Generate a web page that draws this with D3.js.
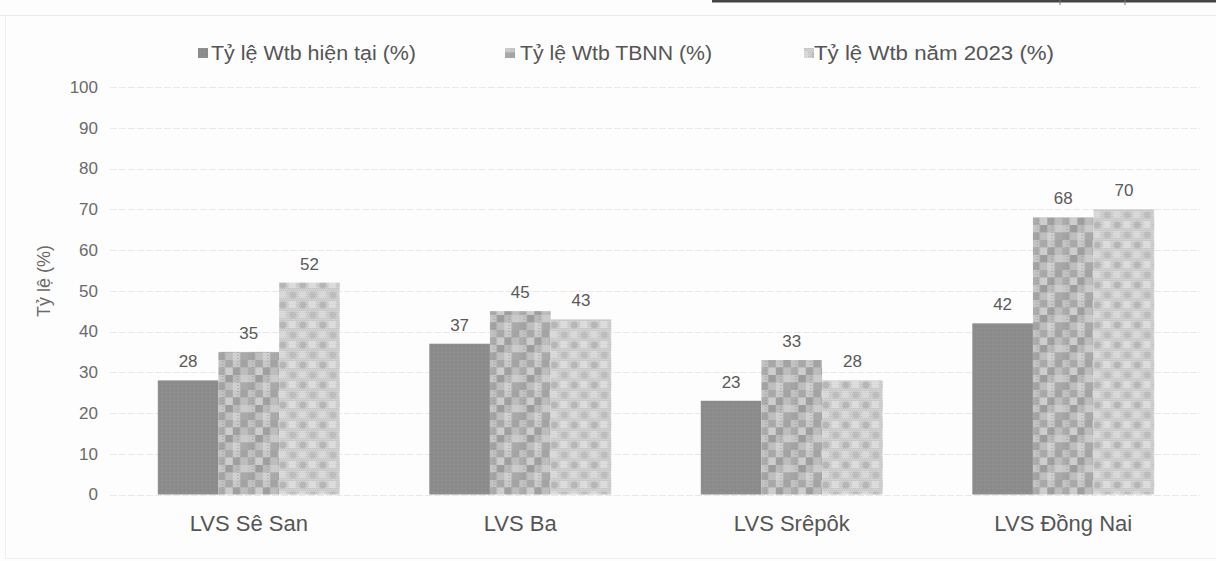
<!DOCTYPE html>
<html>
<head>
<meta charset="utf-8">
<script src="https://cdn.jsdelivr.net/npm/d3@7"></script>
<style>
  html, body { margin: 0; padding: 0; background: #fdfdfd; }
  svg { display: block; font-family: "Liberation Sans", Arial, sans-serif; }
</style>
</head>
<body>
<svg id="chart" width="1216" height="561"></svg>
<script>
// Basin names and water-level ratios (%)
const categories = ["LVS Sê San", "LVS Ba", "LVS Srêpôk", "LVS Đồng Nai"];
const seriesNames = ["Tỷ lệ Wtb hiện tại (%)", "Tỷ lệ Wtb TBNN (%)", "Tỷ lệ Wtb năm 2023 (%)"];
const currentRatio = [28, 37, 23, 42];
const averageRatio = [35, 45, 33, 68];
const ratio2023 = [52, 43, 28, 70];
const yTicks = [0, 10, 20, 30, 40, 50, 60, 70, 80, 90, 100];
const axisTitle = "Tỷ lệ (%)";

const series = [currentRatio, averageRatio, ratio2023];

const svg = d3.select("#chart");
const W = 1216, H = 561;

// --- page frame lines
svg.append("rect").attr("x", 0).attr("y", 0).attr("width", W).attr("height", H).attr("fill", "#fdfdfd");
svg.append("line").attr("x1", 0).attr("x2", W).attr("y1", 15.5).attr("y2", 15.5)
  .attr("stroke", "#ebebeb").attr("stroke-width", 1);
svg.append("line").attr("x1", 5.5).attr("x2", 5.5).attr("y1", 16).attr("y2", 558)
  .attr("stroke", "#efefef").attr("stroke-width", 1);
svg.append("line").attr("x1", 5).attr("x2", W).attr("y1", 558.5).attr("y2", 558.5)
  .attr("stroke", "#efefef").attr("stroke-width", 1);
svg.append("rect").attr("x", 712).attr("y", 0).attr("width", W - 712).attr("height", 2.5)
  .attr("fill", "#444");
[1060, 1125].forEach(x => svg.append("line").attr("x1", x).attr("x2", x).attr("y1", 0).attr("y2", 5)
  .attr("stroke", "#777").attr("stroke-width", 1));

// --- fill patterns
const defs = svg.append("defs");

const p1 = defs.append("pattern").attr("id", "fill0").attr("patternUnits", "userSpaceOnUse")
  .attr("width", 4).attr("height", 4);
p1.append("rect").attr("width", 4).attr("height", 4).attr("fill", "#8c8c8c");
p1.append("rect").attr("x", 0).attr("y", 0).attr("width", 1).attr("height", 1).attr("fill", "#969696");
p1.append("rect").attr("x", 2).attr("y", 2).attr("width", 1).attr("height", 1).attr("fill", "#868686");

const p2 = defs.append("pattern").attr("id", "fill1").attr("patternUnits", "userSpaceOnUse")
  .attr("width", 30).attr("height", 30);
p2.append("rect").attr("width", 30).attr("height", 30).attr("fill", "#b2b2b2");
const blocks2 = [
  [0, 0, "#c2c2c2"], [7.5, 0, "#a8a8a8"], [15, 0, "#c8c8c8"], [22.5, 0, "#a3a3a3"],
  [0, 7.5, "#acacac"], [7.5, 7.5, "#cdcdcd"], [15, 7.5, "#a0a0a0"], [22.5, 7.5, "#bdbdbd"],
  [0, 15, "#c6c6c6"], [7.5, 15, "#9c9c9c"], [15, 15, "#bababa"], [22.5, 15, "#cbcbcb"],
  [0, 22.5, "#a4a4a4"], [7.5, 22.5, "#bebebe"], [15, 22.5, "#d0d0d0"], [22.5, 22.5, "#a9a9a9"]
];
blocks2.forEach(([x, y, c]) => p2.append("rect").attr("x", x).attr("y", y)
  .attr("width", 7.5).attr("height", 7.5).attr("fill", c));
[4, 19].forEach(x => {
  for (let y = 1; y < 30; y += 3) {
    p2.append("rect").attr("x", x).attr("y", y).attr("width", 2).attr("height", 1).attr("fill", "#8e8e8e").attr("opacity", 0.45);
  }
});

const p3 = defs.append("pattern").attr("id", "fill2").attr("patternUnits", "userSpaceOnUse")
  .attr("width", 20).attr("height", 20);
p3.append("rect").attr("width", 20).attr("height", 20).attr("fill", "#d2d2d2");
for (let x = 0; x < 20; x += 2) {
  for (let y = 0; y < 20; y += 2) {
    p3.append("rect").attr("x", x + ((y / 2) % 2)).attr("y", y).attr("width", 1).attr("height", 1).attr("fill", "#bdbdbd");
  }
}
p3.append("circle").attr("cx", 5).attr("cy", 5).attr("r", 3.5).attr("fill", "#adadad").attr("opacity", 0.7);
p3.append("circle").attr("cx", 15).attr("cy", 15).attr("r", 3.5).attr("fill", "#b3b3b3").attr("opacity", 0.6);
p3.append("rect").attr("x", 11).attr("y", 1).attr("width", 7).attr("height", 7).attr("fill", "#e6e6e6").attr("opacity", 0.6);
p3.append("rect").attr("x", 1).attr("y", 11).attr("width", 7).attr("height", 7).attr("fill", "#e3e3e3").attr("opacity", 0.5);

// --- scales
const x0 = d3.scaleBand().domain(categories).range([113, 1199]).paddingInner(0.33).paddingOuter(0.165);
const x1 = d3.scaleBand().domain(d3.range(series.length)).range([0, x0.bandwidth()]);
const y = d3.scaleLinear().domain([0, 100]).range([494.5, 87]);

// --- gridlines
svg.append("g").selectAll("line").data(yTicks).join("line")
  .attr("x1", 110).attr("x2", 1200)
  .attr("y1", d => Math.round(y(d)) + 0.5).attr("y2", d => Math.round(y(d)) + 0.5)
  .attr("stroke", "#e8e8e8").attr("stroke-width", 1).attr("stroke-dasharray", "7,2");

// --- y axis labels
const yAxis = d3.axisLeft(y).tickValues(yTicks).tickSize(0).tickPadding(0);
const yg = svg.append("g").attr("transform", "translate(98,0)").call(yAxis);
yg.select(".domain").remove();
yg.selectAll("text").attr("font-size", 17).attr("fill", "#6a6a6a")
  .attr("font-family", "'Liberation Sans', Arial, sans-serif");

svg.append("text").attr("transform", "translate(50,281) rotate(-90)")
  .attr("text-anchor", "middle").attr("font-size", 18).attr("fill", "#6a6a6a")
  .text(axisTitle);

// --- x axis labels
const xAxis = d3.axisBottom(x0).tickSize(0).tickPadding(0);
const xg = svg.append("g").attr("transform", "translate(0,515)").call(xAxis);
xg.select(".domain").remove();
xg.selectAll("text").attr("font-size", 22).attr("fill", "#555")
  .attr("font-family", "'Liberation Sans', Arial, sans-serif");

// --- bars
const groups = svg.append("g").selectAll("g").data(categories).join("g")
  .attr("transform", d => `translate(${x0(d)},0)`);

groups.selectAll("rect").data((d, i) => series.map((s, k) => ({ k, v: s[i] }))).join("rect")
  .attr("x", d => x1(d.k)).attr("width", x1.bandwidth())
  .attr("y", d => y(d.v)).attr("height", d => y(0) - y(d.v))
  .attr("fill", d => `url(#fill${d.k})`);

groups.selectAll("text.val").data((d, i) => series.map((s, k) => ({ k, v: s[i] }))).join("text")
  .attr("class", "val")
  .attr("x", d => x1(d.k) + x1.bandwidth() / 2).attr("y", d => y(d.v) - 13)
  .attr("text-anchor", "middle").attr("font-size", 17).attr("fill", "#595959")
  .text(d => d.v);

// --- legend
const legendPos = [[198, 211, 205], [505, 520, 192], [804, 814, 240]];
const lg = svg.append("g").selectAll("g").data(seriesNames).join("g");
lg.append("rect").attr("x", (d, i) => legendPos[i][0]).attr("y", 48)
  .attr("width", 10).attr("height", 10).attr("fill", (d, i) => `url(#fill${i})`);
lg.append("text").attr("x", (d, i) => legendPos[i][1]).attr("y", 60)
  .attr("font-size", 20).attr("fill", "#555")
  .attr("textLength", (d, i) => legendPos[i][2]).attr("lengthAdjust", "spacingAndGlyphs")
  .text(d => d);
</script>
</body>
</html>
